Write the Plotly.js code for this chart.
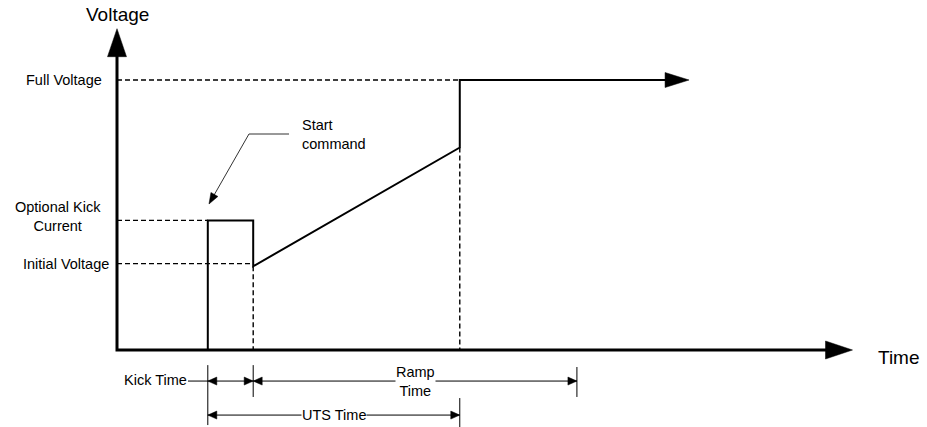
<!DOCTYPE html>
<html><head><meta charset="utf-8">
<script src="https://cdn.plot.ly/plotly-3.0.1.min.js"></script>
<style>html,body{margin:0;padding:0;background:#fff}#chart{width:927px;height:427px}</style>
</head><body><div id="chart"></div>
<script>
// ---------- data (time in arbitrary units, voltage in % of full voltage) ----------
const levelLabels = ['Full Voltage', 'Optional Kick<br>Current', 'Initial Voltage'];
const levelValues = [100, 48, 32];
const eventTimes  = [2.0, 3.0, 7.55, 10.13];      // kick start, kick end, UTS end, ramp-time end
const profileT    = [2.0, 2.0, 3.0, 3.0, 7.55, 7.55, 12.6];
const profileV    = [0,   48,  48,  31,  75,   100,  100];
const axisTipT = 16.2, axisTipV = 119;
const dimLabels = ['Kick Time', 'Ramp<br>Time', 'UTS Time'];

// ---------- layout frame ----------
const W = 927, H = 427;
const xRange = [-2.577, 17.841], yRange = [-28.52, 129.63];
const kx = W / (xRange[1] - xRange[0]), ky = H / (yRange[1] - yRange[0]);
const toPx = (t, v) => [(t - xRange[0]) * kx, (yRange[1] - v) * ky];
const toData = (px, py) => [px / kx + xRange[0], yRange[1] - py / ky];
const FONT = 'Liberation Sans, Arial, sans-serif';

function head(t, v, dx, dy, len, half) {
  const n = Math.hypot(dx, dy), ux = dx / n, uy = dy / n;
  const [px, py] = toPx(t, v), bx = px - ux * len, by = py - uy * len;
  const pts = [[px, py], [bx - uy * half, by + ux * half], [bx + uy * half, by - ux * half], [px, py]]
    .map(p => toData(p[0], p[1]));
  return {x: pts.map(p => p[0]), y: pts.map(p => p[1]), mode: 'lines', fill: 'toself',
          fillcolor: '#000', line: {color: '#000', width: 0.5}, hoverinfo: 'skip', showlegend: false};
}
function back(t, v, dx, dy, d) {
  const n = Math.hypot(dx, dy), [px, py] = toPx(t, v);
  return toData(px - dx / n * d, py - dy / n * d);
}
function line(x, y, width, dash, color) {
  return {x, y, mode: 'lines', line: {color: color || '#000', width, dash: dash || 'solid'},
          hoverinfo: 'skip', showlegend: false, connectgaps: false};
}

const [tK0, tK1, tU, tR] = eventTimes;
const [vFull, vKick, vInit] = levelValues;
const traces = [];

// dashed guide lines
traces.push(line(
  [0, tU, null, 0, tK0, null, 0, tK1, null, tK1, tK1, null, tU, tU],
  [vFull, vFull, null, vKick, vKick, null, vInit, vInit, null, profileV[3], 0, null, profileV[4], 0],
  1.4, '5px,3px'));

// axes
const yBase = back(0, axisTipV, 0, -1, 26), xBase = back(axisTipT, 0, 1, 0, 25);
traces.push(line([0, 0, xBase[0]], [yBase[1], 0, 0], 3));
traces.push(head(0, axisTipV, 0, -1, 28, 9.5));
traces.push(head(axisTipT, 0, 1, 0, 27, 9));

// voltage profile
const pEnd = back(profileT[6], profileV[6], 1, 0, 22);
traces.push(line(profileT.slice(0, 6).concat([pEnd[0]]), profileV.slice(0, 6).concat([pEnd[1]]), 2));
traces.push(head(profileT[6], profileV[6], 1, 0, 24, 7.5));

// dimension lines
const vDim1 = -11.5, vDim2 = -24.1;
const kickLabelEnd = 1.564;
traces.push(line(
  [kickLabelEnd, tR, null, tK0, tU, null, tK0, tK0, null, tK1, tK1, null, tR, tR, null, tU, tU],
  [vDim1, vDim1, null, vDim2, vDim2, null, -5.6, -27.8, null, -5.6, -17.4, null, -6.3, -17.4, null, -17.8, -28.6],
  1));
traces.push(head(tK0, vDim1, -1, 0, 9, 4));
traces.push(head(tK1, vDim1, 1, 0, 9, 4));
traces.push(head(tK1, vDim1, -1, 0, 9, 4));
traces.push(head(tR, vDim1, 1, 0, 9, 4));
traces.push(head(tK0, vDim2, -1, 0, 9, 4));
traces.push(head(tU, vDim2, 1, 0, 9, 4));

// start command leader
const startTip = [2.026, 54.07], startElbow = [2.907, 80], startTail = [3.789, 80];
const sDir = [toPx(...startTip)[0] - toPx(...startElbow)[0], toPx(...startTip)[1] - toPx(...startElbow)[1]];
const sEnd = back(startTip[0], startTip[1], sDir[0], sDir[1], 8);
traces.push(line([startTail[0], startElbow[0], sEnd[0]], [startTail[1], startElbow[1], sEnd[1]], 1, 'solid', '#333'));
traces.push(head(startTip[0], startTip[1], sDir[0], sDir[1], 11, 4));

const f = (s) => ({family: FONT, size: s, color: '#000'});
const ann = (text, x, y, xa, size, extra) => Object.assign({text, x, y, xref: 'x', yref: 'y', xanchor: xa,
  yanchor: 'middle', showarrow: false, font: f(size), borderpad: 0}, extra || {});

const annotations = [
  ann('Voltage', 0, 124.4, 'center', 19),
  ann('Time', 17.22, -2.6, 'center', 19),
  ann(levelLabels[0], -0.31, vFull, 'right', 14.5),
  ann(levelLabels[1], -1.29, 49.3, 'center', 14.5, {align: 'center'}),
  ann(levelLabels[2], -0.155, vInit, 'right', 14.5),
  ann(dimLabels[0], kickLabelEnd, -11.1, 'right', 14.5),
  ann(dimLabels[1], 6.564, -11.5, 'center', 14.5, {align: 'center', bgcolor: '#fff'}),
  ann(dimLabels[2], 4.769, -24.1, 'center', 14.5, {bgcolor: '#fff'}),
  ann('Start<br>command', 4.06, 80, 'left', 14.5, {align: 'left'})
];

Plotly.newPlot('chart', traces, {
  width: W, height: H, margin: {l: 0, r: 0, t: 0, b: 0},
  paper_bgcolor: '#fff', plot_bgcolor: '#fff', showlegend: false,
  xaxis: {range: xRange, visible: false, fixedrange: true},
  yaxis: {range: yRange, visible: false, fixedrange: true},
  annotations
}, {staticPlot: true, displayModeBar: false});
</script></body></html>
